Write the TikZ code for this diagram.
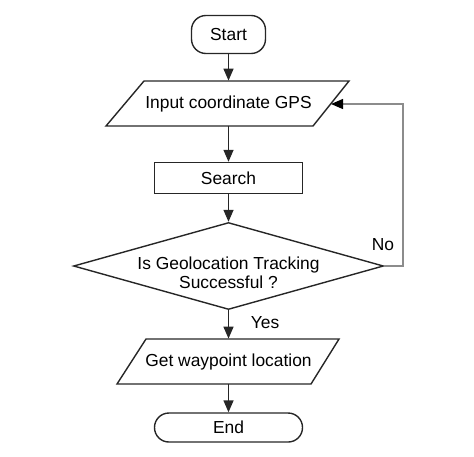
\documentclass[tikz,border=0pt]{standalone}
\usepackage{fontspec}
\setmainfont{Liberation Sans}
\usetikzlibrary{arrows.meta,shapes.geometric}
\begin{document}
\begin{tikzpicture}[x=0.5pt,y=-0.5pt,
  every node/.style={font=\fontsize{8.7}{9.6}\selectfont, inner sep=0pt},
  shapeline/.style={draw=black!85, line width=0.7pt},
  term/.style={shapeline, rectangle, rounded corners=7.2pt},
  proc/.style={shapeline, rectangle},
  flow/.style={draw=black!85, line width=0.7pt, -{Triangle[length=6pt,width=5pt]}},
  back/.style={draw=black!45, line width=0.6pt, -{Triangle[length=6pt,width=5pt,black]}},
  lbl/.style={font=\fontsize{8.7}{9.6}\selectfont}]
\useasboundingbox (0,0) rectangle (474,456);
% Start
\node[term, minimum width=37pt, minimum height=19pt] (start) at (228.5,34.5) {Start};
% Input parallelogram
\draw[shapeline] (144,81) -- (349,81) -- (313,126) -- (106,126) -- cycle;
\node[minimum width=80pt, minimum height=22.5pt] (input) at (228.5,103.5) {Input coordinate GPS};
\coordinate (fbin) at (331,104);
% Search
\node[proc, minimum width=74pt, minimum height=15.5pt] (search) at (228.5,178) {Search};
% Decision
\node[shapeline, diamond, minimum width=155pt, minimum height=43.5pt] (dec) at (228.5,266) {};
\node[align=center] (dectext) at (228.5,273) {Is Geolocation Tracking\\Successful ?};
% Get waypoint parallelogram
\draw[shapeline] (146,339) -- (339,339) -- (311,384) -- (117,384) -- cycle;
\node[minimum width=80pt, minimum height=22.5pt] (get) at (228.5,361.5) {Get waypoint location};
% End
\node[term, minimum width=74pt, minimum height=14.5pt] (end) at (228.5,427.5) {End};
% Connectors
\draw[flow] (start.south) -- (input.north);
\draw[flow] (input.south) -- (search.north);
\draw[flow] (search.south) -- (dec.north);
\draw[flow] (dec.south) -- (get.north);
\draw[flow] (get.south) -- (end.north);
\coordinate (fbcorner) at (403,266);
\draw[back] (dec.east) -- (fbcorner) |- (fbin);
% Labels
\node[lbl] (nolbl) at (383,245) {No};
\node[lbl] (yeslbl) at (265,323) {Yes};
\end{tikzpicture}
\end{document}
